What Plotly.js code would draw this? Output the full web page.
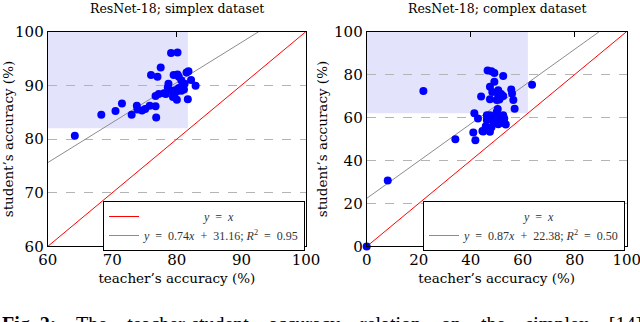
<!DOCTYPE html>
<html>
<head>
<meta charset="utf-8">
<script src="https://cdn.plot.ly/plotly-3.0.1.min.js"></script>
<style>html,body{margin:0;padding:0;background:#fff}#chart{width:640px;height:322px}</style>
</head>
<body>
<div id="chart"></div>
<script>
// ---- Data ----
const simplexTeacher = [64.2,68.3,70.5,71.5,73.0,73.8,73.9,74.6,75.1,75.8,76.7,76.8,76.0,77.0,77.5,76.7,77.2,78.0,78.6,78.7,79.1,80.1,79.5,80.1,80.3,79.2,79.7,80.0,80.7,79.6,80.0,81.7,80.7,81.5,81.8,82.2,82.9,81.2,80.9,80.3,81.1,79.4,78.3];
const simplexStudent = [80.6,84.5,85.2,86.6,84.5,86.2,85.5,85.3,85.6,86.2,86.1,84.0,91.9,91.6,93.3,88.0,88.4,88.5,89.6,90.3,96.0,96.1,91.9,92.0,91.6,89.0,89.1,88.9,89.0,88.1,87.3,87.4,90.9,92.4,92.6,91.0,89.9,90.3,90.0,89.5,89.2,87.8,88.4];
const complexTeacher = [0,8.1,21.8,34.1,41.8,41.0,41.4,42.8,44.0,44.8,45.8,46.2,46.8,46.2,47.4,47.4,48.7,50.0,50.6,52.5,52.9,52.9,50.6,53.5,51.0,50.4,46.5,48.0,49.1,52.5,49.1,47.4,48.3,50.6,50.6,52.5,51.7,47.4,50.0,51.0,55.6,55.9,56.4,56.9,63.6,44.5,49.2,48.0];
const complexStudent = [0,30.7,72.4,49.9,49.4,53.0,62.0,59.6,69.8,53.5,56.0,58.8,55.0,61.1,61.1,53.4,58.0,62.6,60.3,61.1,59.6,57.3,56.9,56.8,57.5,64.0,81.9,81.5,80.7,79.3,76.7,74.3,71.9,72.7,70.4,70.0,71.0,68.5,68.1,68.4,73.1,71.2,68.1,64.1,75.3,53.7,60.5,55.5];

const simplexIdentityX = [60, 100], simplexIdentityY = [60, 100];
const simplexFitX = [60, 92.7], simplexFitY = [75.6, 100];
const complexIdentityX = [0, 100], complexIdentityY = [0, 100];
const complexFitX = [0, 89.5], complexFitY = [22.38, 100];

// shaded "good" regions [x0, x1, y0, y1]
const simplexRegion = [60, 81.7, 82, 100];
const complexRegion = [0, 62, 62, 100];

const titles = ['ResNet-18; simplex dataset', 'ResNet-18; complex dataset'];
const simplexTicks = [60, 70, 80, 90, 100];
const complexTicks = [0, 20, 40, 60, 80, 100];
const simplexMarkTicks = [80];
const complexMarkTicks = [40, 80];
const S = '&nbsp;&nbsp;';
const identityLabel = '<i>y</i>' + S + '=' + S + '<i>x</i>';
const simplexFitLabel = '<i>y</i>' + S + '=' + S + '0.74<i>x</i>' + S + '+' + S + '31.16; <i>R</i><sup>2</sup>' + S + '=' + S + '0.95';
const complexFitLabel = '<i>y</i>' + S + '=' + S + '0.87<i>x</i>' + S + '+' + S + '22.38; <i>R</i><sup>2</sup>' + S + '=' + S + '0.50';
const captionWords = ['<b>Fig.&nbsp;2:</b>', 'The', 'teacher-student', 'accuracy', 'relation', 'on', 'the', 'simplex', '[14]'];

// ---- Styles ----
const FONT = 'DejaVu Serif';
const LFONT = 'Liberation Serif';
const BLUE = '#0000ff', RED = '#ff0000', GREY = '#8c8c8c', SHADE = '#e3e3fb';
const pad = n => '&nbsp;'.repeat(n);

const traces = [
  {x: simplexIdentityX, y: simplexIdentityY, xaxis:'x', yaxis:'y', mode:'lines', line:{color:RED, width:1}, name: pad(20)+identityLabel, legend:'legend', showlegend:true},
  {x: simplexFitX, y: simplexFitY, xaxis:'x', yaxis:'y', mode:'lines', line:{color:GREY, width:1}, name: simplexFitLabel, legend:'legend', showlegend:true},
  {x: simplexTeacher, y: simplexStudent, xaxis:'x', yaxis:'y', mode:'markers', marker:{color:BLUE, size:8}, showlegend:false, cliponaxis:false},
  {x: complexIdentityX, y: complexIdentityY, xaxis:'x2', yaxis:'y2', mode:'lines', line:{color:RED, width:1}, showlegend:false},
  {x: [null], y: [null], xaxis:'x2', yaxis:'y2', mode:'lines', line:{color:'rgba(0,0,0,0)', width:1}, name: pad(20)+identityLabel, legend:'legend2', showlegend:true},
  {x: complexFitX, y: complexFitY, xaxis:'x2', yaxis:'y2', mode:'lines', line:{color:GREY, width:1}, name: complexFitLabel, legend:'legend2', showlegend:true},
  {x: complexTeacher, y: complexStudent, xaxis:'x2', yaxis:'y2', mode:'markers', marker:{color:BLUE, size:8}, showlegend:false, cliponaxis:false}
];

const yDom = [0.2345, 0.902];
const TF = {family:FONT, size:15, color:'#000'};
const AF = {family:FONT, size:13.5, color:'#000'};
function xAx(dom, range, ticks, marks, anchor){
  return {domain: dom, range: range, tickvals: ticks, ticktext: ticks.map(String), anchor: anchor,
    showgrid:false, zeroline:false, showline:true, mirror:'ticks', linecolor:'#000', linewidth:1,
    ticks:'outside', ticklen:0, tickcolor:'rgba(0,0,0,0)', tickfont:TF, ticklabelstandoff:0, ticklabeloverflow:'allow',
    minor:{tickmode:'array', tickvals:marks, ticks:'inside', ticklen:5, tickwidth:1, tickcolor:'#000', showgrid:false},
    title:{text:"teacher’s accuracy (%)", font:AF, standoff:5}};
}
function yAx(range, ticks, anchor){
  return {domain: yDom, range: range, tickvals: ticks, ticktext: ticks.map(String), anchor: anchor,
    showgrid:true, gridcolor:'#b4b4b4', griddash:'dash', gridwidth:1, zeroline:false,
    showline:true, mirror:true, linecolor:'#000', linewidth:1,
    ticks:'', tickfont:TF, ticklabelstandoff:0, ticklabeloverflow:'allow',
    title:{text:"student’s accuracy (%)", font:AF, standoff:3}};
}

const xd1 = [47.7/640, 306/640], xd2 = [366.7/640, 626.7/640];
const legendStyle = {xanchor:'left', yanchor:'top', bgcolor:'#fff', bordercolor:'#000', borderwidth:1,
    font:{family:LFONT, size:12, color:'#333'}, tracegroupgap:0, itemwidth:30};
const layout = {
  width:640, height:322, autosize:false,
  margin:{l:0, r:0, t:0, b:0},
  paper_bgcolor:'#fff', plot_bgcolor:'#fff',
  xaxis: xAx(xd1, [60,100], simplexTicks, simplexMarkTicks, 'y'),
  yaxis: yAx([60,100], simplexTicks, 'x'),
  xaxis2: xAx(xd2, [0,100], complexTicks, complexMarkTicks, 'y2'),
  yaxis2: yAx([0,100], complexTicks, 'x2'),
  shapes: [
    {type:'rect', xref:'x', yref:'y', x0:simplexRegion[0], x1:simplexRegion[1], y0:simplexRegion[2], y1:simplexRegion[3], fillcolor:SHADE, line:{width:0}, layer:'below'},
    {type:'rect', xref:'x2', yref:'y2', x0:complexRegion[0], x1:complexRegion[1], y0:complexRegion[2], y1:complexRegion[3], fillcolor:SHADE, line:{width:0}, layer:'below'}
  ],
  legend: Object.assign({x:103/640, y:(322-201)/322}, legendStyle),
  legend2: Object.assign({x:423/640, y:(322-201)/322}, legendStyle),
  annotations: [
    {text:titles[0], xref:'paper', yref:'paper', x:(xd1[0]+xd1[1])/2, y:1-8/322, xanchor:'center', yanchor:'middle', showarrow:false, font:{family:FONT, size:12.5, color:'#000'}},
    {text:titles[1], xref:'paper', yref:'paper', x:(xd2[0]+xd2[1])/2, y:1-8/322, xanchor:'center', yanchor:'middle', showarrow:false, font:{family:FONT, size:12.5, color:'#000'}},
    {text:captionWords.join('&nbsp;&nbsp;&nbsp; '), xref:'paper', yref:'paper', x:0, y:-(311-322)/322, xanchor:'left', yanchor:'top', showarrow:false, font:{family:LFONT, size:20, color:'#000'}}
  ]
};

Plotly.newPlot('chart', traces, layout, {displayModeBar:false, staticPlot:true});
</script>
</body>
</html>
